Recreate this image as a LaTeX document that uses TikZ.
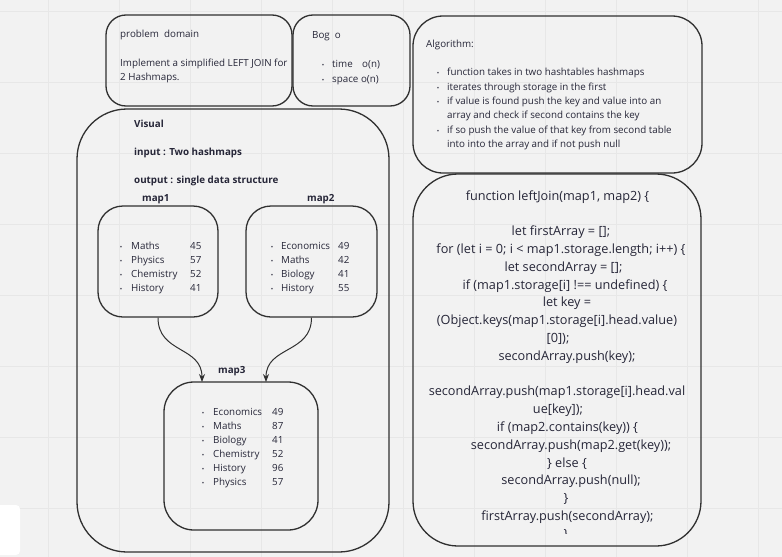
\documentclass[tikz,border=0pt]{standalone}
\usepackage{fontspec}
\setmainfont{Open Sans}
\usetikzlibrary{arrows.meta}
\definecolor{ink}{HTML}{262638}
\definecolor{edge}{HTML}{303030}
\definecolor{paper}{HTML}{F2F2F2}
\definecolor{gridline}{HTML}{E7E7E7}

\begin{document}
\begin{tikzpicture}[x=1pt, y=-1pt,
		box/.style={draw=edge, line width=1.3pt, inner sep=0pt},
		txt/.style={anchor=base west, inner sep=0pt, text=ink, font=\fontsize{9.8}{11}\selectfont},
		lbl/.style={txt, font=\fontsize{9.8}{11}\selectfont\bfseries},
		dot/.style={anchor=base, inner sep=0pt, text=ink, font=\fontsize{6.5}{7}\selectfont},
		code/.style={anchor=base, inner sep=0pt, text=ink, font=\fontsize{12.7}{14}\selectfont},
		link/.style={draw=edge, line width=1pt, -{Stealth[length=8pt, width=6pt]}}]
		%%%%%%%%%%%%% canvas
		\useasboundingbox (0,0) rectangle (782,557);
		\fill[paper] (0,0) rectangle (782,557);
		\foreach \gx in {48,119,...,782} \draw[gridline, line width=0.8pt] (\gx,0) -- (\gx,557);
		\foreach \gy in {11,82,...,557} \draw[gridline, line width=0.8pt] (0,\gy) -- (782,\gy);
		\fill[white, rounded corners=4pt] (-10,505) rectangle (20,555);
		%%%%%%%%%%%%% boxes
		\node[box, rounded corners=20pt, minimum width=186, minimum height=91] (prob) at (199,60.5) {};
		\node[box, rounded corners=20pt, minimum width=117, minimum height=91] (bigo) at (351.5,60.5) {};
		\node[box, rounded corners=30pt, minimum width=289, minimum height=157] (algo) at (557.5,94.5) {};
		\node[box, rounded corners=50pt, minimum width=312, minimum height=443] (visual) at (233,330.5) {};
		\node[box, rounded corners=25pt, minimum width=120, minimum height=111] (map1) at (158,261.5) {};
		\node[box, rounded corners=25pt, minimum width=131, minimum height=111] (map2) at (311.5,261.5) {};
		\node[box, rounded corners=30pt, minimum width=154, minimum height=148] (map3) at (241,456) {};
		\node[box, rounded corners=45pt, minimum width=288, minimum height=372] (code) at (557,360) {};
		%%%%%%%%%%%%% problem domain, big o
		\node[txt] (probt) at (120,37.5) {problem\ \ domain};
		\node[txt] (probl1) at (120,66) {Implement a simplified LEFT JOIN for};
		\node[txt] (probl2) at (120,80.5) {2 Hashmaps.};
		\node[txt] (bigot) at (312,38) {Bog\ \ o};
		\node[dot] (bigod1) at (323,67.5) {•};
		\node[txt] (bigol1) at (332,67.5) {\makebox[30pt][l]{time}o(n)};
		\node[dot] (bigod2) at (323,82) {•};
		\node[txt] (bigol2) at (332,82) {space o(n)};
		%%%%%%%%%%%%% algorithm
		\node[txt] (algot) at (426,47.5) {Algorithm:};
		\node[dot] (algod1) at (438,75.8) {•};
		\node[txt] (algol1) at (447,75.8) {function takes in two hashtables hashmaps};
		\node[dot] (algod2) at (438,90.2) {•};
		\node[txt] (algol2) at (447,90.2) {iterates through storage in the first};
		\node[dot] (algod3) at (438,104.5) {•};
		\node[txt] (algol3) at (447,104.5) {if value is found push the key and value into an};
		\node[txt] (algol4) at (447,118.9) {array and check if second contains the key};
		\node[dot] (algod5) at (438,133.2) {•};
		\node[txt] (algol5) at (447,133.2) {if so push the value of that key from second table};
		\node[txt] (algol6) at (447,147.6) {into into the array and if not push null};
		%%%%%%%%%%%%% visual
		\node[lbl] (vist) at (134,127) {Visual};
		\node[lbl] (visin) at (134,155) {input : Two hashmaps};
		\node[lbl] (visout) at (134,183) {output : single data structure};
		\node[lbl] (map1t) at (142,201) {map1};
		\node[lbl] (map2t) at (307,201) {map2};
		\node[lbl] (map3t) at (218,373.5) {map3};
		\foreach \k/\v [count=\i] in {Maths/45, Physics/57, Chemistry/52, History/41} {
			\node[dot] (ad\i) at (121,235+14*\i) {•};
			\node[txt] (ak\i) at (131,235+14*\i) {\k};
			\node[txt] (av\i) at (190,235+14*\i) {\v};
		}
		\foreach \k/\v [count=\i] in {Economics/49, Maths/42, Biology/41, History/55} {
			\node[dot] (bd\i) at (272,235+14*\i) {•};
			\node[txt] (bk\i) at (281,235+14*\i) {\k};
			\node[txt] (bv\i) at (338,235+14*\i) {\v};
		}
		\foreach \k/\v [count=\i] in {Economics/49, Maths/87, Biology/41, Chemistry/52, History/96, Physics/57} {
			\node[dot] (cd\i) at (203,401+14*\i) {•};
			\node[txt] (ck\i) at (213,401+14*\i) {\k};
			\node[txt] (cv\i) at (272,401+14*\i) {\v};
		}
		\coordinate (in1) at (202,382);
		\coordinate (in2) at (266,382);
		\draw[link] (map1.south) .. controls +(0,36) and +(0,-36) .. (in1);
		\draw[link] (map2.south) .. controls +(0,36) and +(0,-36) .. (in2);
		%%%%%%%%%%%%% code
		\node[code] (c1) at (557.5,200) {function leftJoin(map1, map2) \{};
		\node[code] (c2) at (561,235.6) {let firstArray = [];};
		\node[code] (c3) at (561,253.4) {for (let i = 0; i < map1.storage.length; i++) \{};
		\node[code] (c4) at (563.5,271.2) {let secondArray = [];};
		\node[code] (c5) at (565,289) {if (map1.storage[i] !== undefined) \{};
		\node[code] (c6) at (567,306.8) {let key =};
		\node[code] (c7) at (557,324.6) {(Object.keys(map1.storage[i].head.value)};
		\node[code] (c8) at (558,342.4) {{[0]);}};
		\node[code] (c9) at (567,360.2) {secondArray.push(key);};
		\node[code] (c10) at (557,395.8) {secondArray.push(map1.storage[i].head.val};
		\node[code] (c11) at (558,413.6) {ue[key]);};
		\node[code] (c12) at (567.5,431.4) {if (map2.contains(key)) \{};
		\node[code] (c13) at (571,449.2) {secondArray.push(map2.get(key));};
		\node[code] (c14) at (567,467) {\} else \{};
		\node[code] (c15) at (571,484.8) {secondArray.push(null);};
		\node[code] (c16) at (566,502.6) {\}};
		\node[code] (c17) at (567.5,520.4) {firstArray.push(secondArray);};
		\begin{scope}
			\clip (413,174) rectangle (702,533);
			\node[code] (c18) at (566,538.2) {\}};
		\end{scope}
\end{tikzpicture}
\end{document}
